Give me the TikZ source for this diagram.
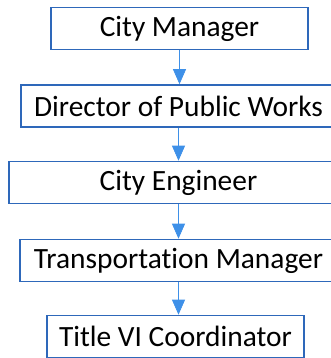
\documentclass[tikz,border=0pt]{standalone}
\usepackage{fontspec}
\setmainfont[Ligatures=NoCommon]{Carlito}
\usetikzlibrary{arrows.meta}
\definecolor{boxblue}{RGB}{46,104,186}
\definecolor{arrowblue}{RGB}{62,144,232}

\begin{document}
\begin{tikzpicture}[x=1pt,y=1pt,every node/.style={rectangle,draw=boxblue,line width=1.6pt,
    minimum height=42pt,inner sep=0pt,font=\fontsize{29.4}{32}\selectfont}]
  \useasboundingbox (0,0) rectangle (330,358);
  \node[minimum width=257pt] (cm) at (179.5,329.5) {City Manager};
  \node[minimum width=315pt] (dpw) at (178.5,252) {Director of Public Works};
  \node[minimum width=339pt] (ce) at (178.5,175.5) {City Engineer};
  \node[minimum width=317pt] (tm) at (178.5,97.5) {Transportation Manager};
  \node[minimum width=257pt] (t6) at (175.5,21.5) {Title VI Coordinator};

  \path[draw=arrowblue,line width=0.7pt,-{Triangle[width=13pt,length=15pt,fill=arrowblue]}]
    (cm) edge (cm |- dpw.north)
    (dpw) edge (dpw |- ce.north)
    (ce) edge (ce |- tm.north)
    (tm) edge (tm |- t6.north);
\end{tikzpicture}
\end{document}
